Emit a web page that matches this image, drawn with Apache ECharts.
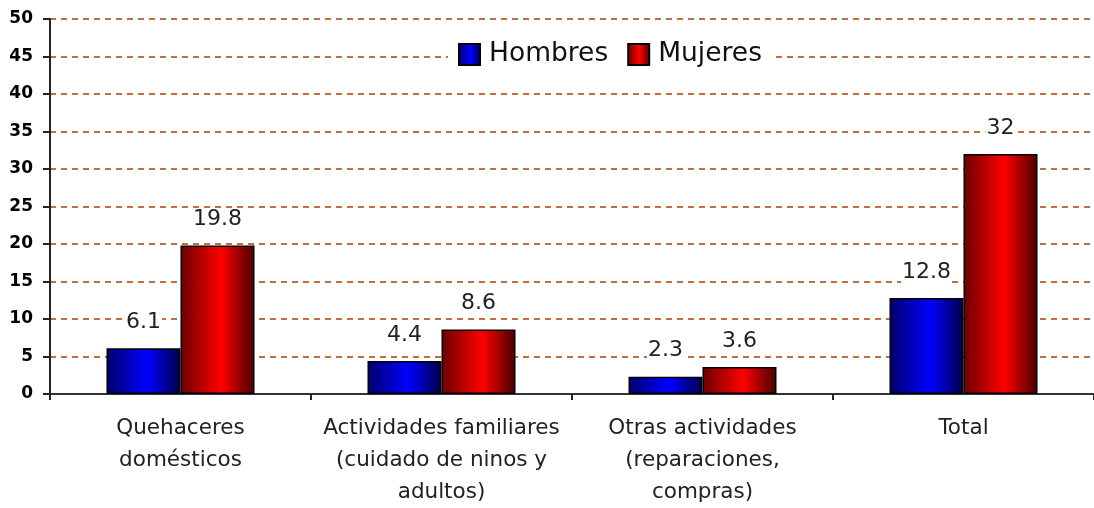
<!DOCTYPE html>
<html>
<head>
<meta charset="utf-8">
<title>Hombres / Mujeres</title>
<script src="https://cdn.jsdelivr.net/npm/echarts@6/dist/echarts.min.js"></script>
<style>
    html, body { margin: 0; padding: 0; background: #fff; }
    #chart { width: 1094px; height: 508px; }
</style>
</head>
<body>
<div id="chart"></div>
<script>
// ---
// data
// ---
var categories = [
    'Quehaceres\ndomésticos',
    'Actividades familiares\n(cuidado de ninos y\nadultos)',
    'Otras actividades\n(reparaciones,\ncompras)',
    'Total'
];
var hombres = [6.1, 4.4, 2.3, 12.8];
var mujeres = [19.8, 8.6, 3.6, 32];
var seriesNames = ['Hombres', 'Mujeres'];
var yMin = 0;
var yMax = 50;
var yStep = 5;


// ///////////////////////////////////////////
// helpers
var FONT = 'DejaVu Sans';

function barFill(dark, bright, darkRight) {
    return new echarts.graphic.LinearGradient(0, 0, 1, 0, [
        {offset: 0, color: dark},
        {offset: 0.55, color: bright},
        {offset: 1, color: darkRight}
    ]);
}

function barSeries(name, data, fill) {
    return {
        name: name,
        type: 'bar',
        data: data,
        barWidth: 74,
        barGap: '0%',
        itemStyle: {
            color: fill,
            borderColor: '#000',
            borderWidth: 1.5
        },
        label: {
            show: true,
            position: 'top',
            distance: 15,
            color: '#222',
            fontFamily: FONT,
            fontSize: 22,
            backgroundColor: '#fff',
            padding: [0, 1]
        }
    };
}


// ///////////////////////////////////////////
// echarts
var chart = echarts.init(document.getElementById('chart'), null, {renderer: 'canvas'});

chart.setOption({
    animation: false,
    backgroundColor: '#fff',
    grid: {
        left: 50,
        top: 19,
        width: 1052,
        bottom: 114,
        containLabel: false
    },
    legend: {
        data: seriesNames,
        icon: 'rect',
        left: 448,
        top: 35,
        padding: [6, 10],
        itemWidth: 21,
        itemHeight: 21,
        itemGap: 19,
        backgroundColor: '#fff',
        textStyle: {
            fontFamily: FONT,
            fontSize: 26.5,
            color: '#111',
            padding: [0, 0, 0, 4]
        }
    },
    xAxis: {
        type: 'category',
        data: categories,
        axisLine: {lineStyle: {color: '#333', width: 2}},
        axisTick: {show: true, length: 6, lineStyle: {color: '#222', width: 2}},
        axisLabel: {
            interval: 0,
            margin: 18,
            color: '#222',
            fontFamily: FONT,
            fontSize: 21.5,
            lineHeight: 32,
            align: 'center'
        }
    },
    yAxis: {
        type: 'value',
        min: yMin,
        max: yMax,
        interval: yStep,
        axisLine: {show: true, lineStyle: {color: '#222', width: 2}},
        axisTick: {show: true, length: 7, lineStyle: {color: '#222', width: 2}},
        axisLabel: {
            margin: 17,
            color: '#000',
            fontFamily: FONT,
            fontWeight: 'bold',
            fontSize: 17
        },
        splitLine: {
            show: true,
            lineStyle: {color: '#c0703f', width: 2, type: [6, 5]}
        }
    },
    series: [
        barSeries(seriesNames[0], hombres, barFill('#00006a', '#0000ff', '#000048')),
        barSeries(seriesNames[1], mujeres, barFill('#6a0000', '#ff0000', '#480000'))
    ]
});
</script>
</body>
</html>
